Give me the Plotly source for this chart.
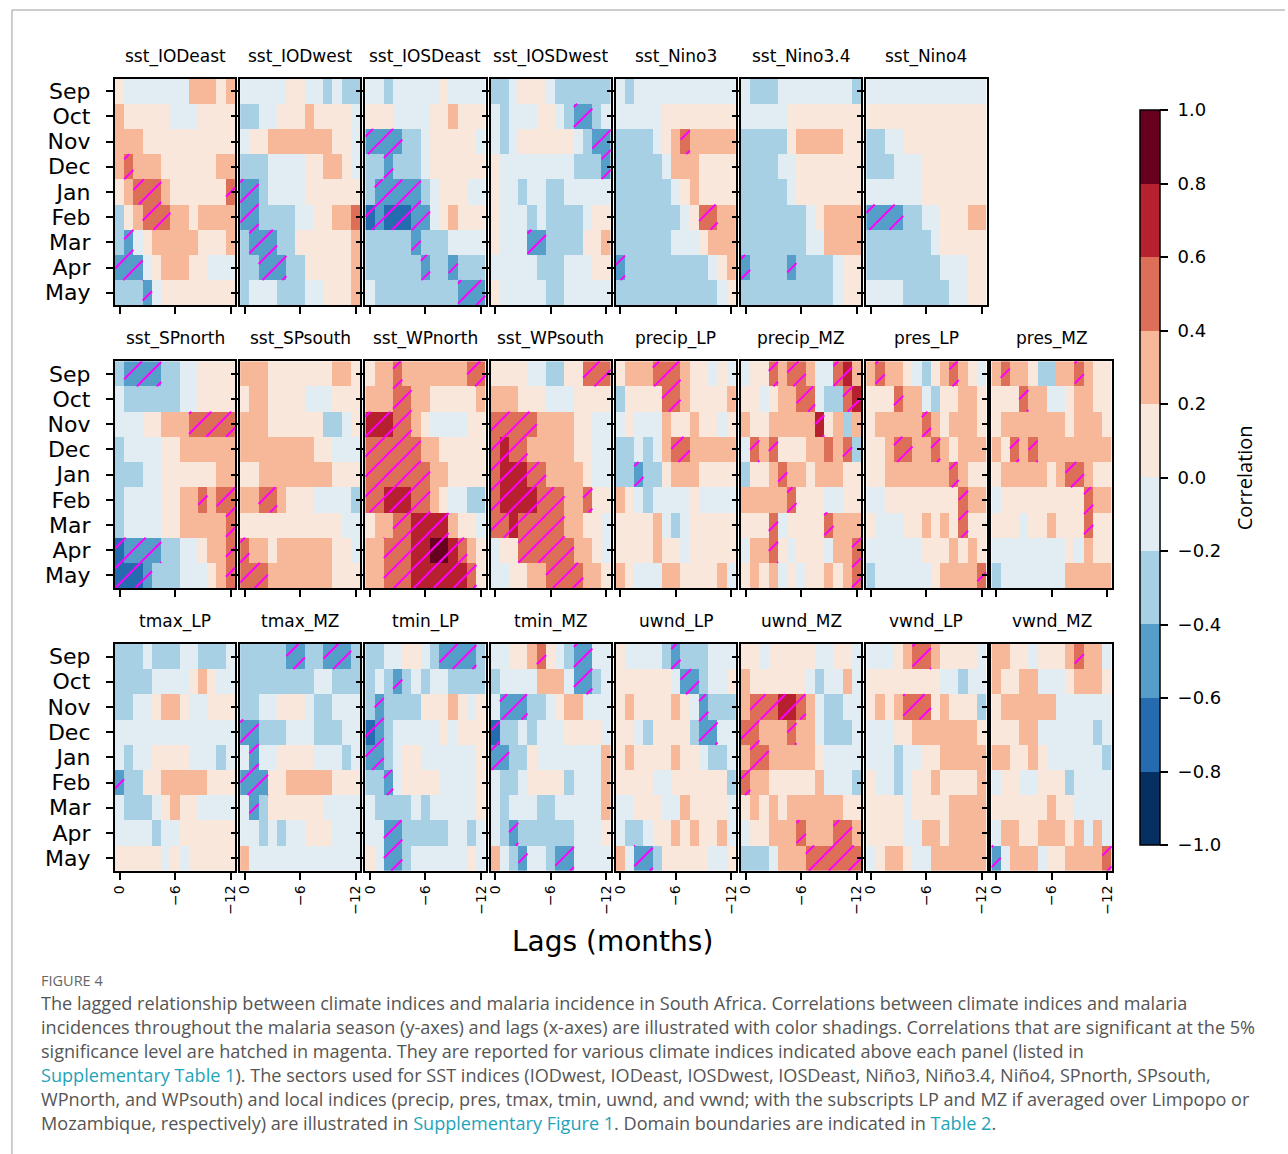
import math
import plotly.graph_objects as go

# ---------------- data ----------------
MONTHS = ["Sep", "Oct", "Nov", "Dec", "Jan", "Feb", "Mar", "Apr", "May"]
LAGS = [0, -1, -2, -3, -4, -5, -6, -7, -8, -9, -10, -11, -12]
LAG_TICKS = [0, -6, -12]
LAG_TICKTEXT = ["0", "\u22126", "\u221212"]

# correlation class centres (colorbar bins of width 0.2 from -1 to 1)
BIN_CENTERS = [-0.9, -0.7, -0.5, -0.3, -0.1, 0.1, 0.3, 0.5, 0.7, 0.9]
# cell codes: digit = correlation bin (0..9), letter A..J = same bin and significant (hatched)

sst_IODeast = ["5444444466656", "6555554445555", "6665555555555", "6H66655555566", "56HHH6555555H",
               "356HHH6656666", "3C45666665556", "CCC4566655444", "333C455555555"]
sst_IODwest = ["4444455443433", "3344555655554", "4556666666554", "3334444556654", "CC34444555555",
               "CC33334455667", "3CCC335555556", "33CCC33555556", "3444333445556"]
sst_IOSDeast = ["4434444454444", "5554444556555", "CCCC334555554", "33C3334555555", "3CCCCC3455544",
                "BCBBBCC456555", "33333C3334444", "333333C33C333", "4333333333CCC"]
sst_IOSDwest = ["3345554333333", "434445543CC34", "43455555543CC", "544444444333C", "5443443344444",
                "5444343333455", "5444CC3333556", "4444433344455", "5444443344444"]
sst_Nino3 = ["4344444444444", "4444455555555", "3333456H66666", "3333346665555", "3333334565555",
             "333333345HH66", "3333334445666", "C333333333456", "3333333333345"]
sst_Nino34 = ["4333444444443", "4444455555555", "3333356666655", "3333445555555", "3333345555555",
              "3333333456666", "3333333446666", "C3333C3333455", "3333333333455"]
sst_Nino4 = ["4444444444444", "5555555555555", "3344555555555", "3334445555555", "4444445555555",
             "CCCC334455566", "3333333455555", "3333333344455", "4444333334455"]

sst_SPnorth = ["3CCCC33445555", "4333333445555", "44455666HHHHH", "3444455666666", "3334455555566",
               "344445566H6HH", "344445566666H", "BCCCC3344566H", "BBBC33344456H"]
sst_SPsouth = ["6665555555665", "5665555444555", "6665555553345", "6666666655444", "5566666666555",
               "66HH655544443", "5555555555544", "H665666666554", "HHH6666666555"]
sst_WPnorth = ["566H6666666HH", "666HH66555556", "IIIHH65444455", "HHHHHH6655555", "HHHHHHH665555",
               "HHIIIHH654433", "566HHIIII6554", "66HHHIIJJIH65", "66HHHIIIIIIH5"]
sst_WPsouth = ["5555443355HHH", "6665554445555", "HHHHH66665544", "HIHH666665544", "HIIIHH6666544",
               "HIIIIHHH66H55", "HHIHHHHH66554", "455HHHHHH6654", "445566HHHH665"]
precip_LP = ["5666HHH655454", "35555HH655556", "4544465565545", "334346HH66666", "33C3356665555",
             "6543444454444", "5555643455555", "5555655455555", "6544466555564"]
precip_MZ = ["455H6HH644HI6", "554566HH433HI", "65566666I5636", "4H6H5556676H3", "3556H66566655",
             "66666H5554455", "555H45555H666", "466H54555466H", "565645455656H"]
pres_LP = ["6H6654356H654", "555H664355665", "566666H656665", "556HH66H65666", "556666666H655",
           "4455555555H66", "5444556565H55", "4444445556565", "344444456666H"]
pres_MZ = ["6H6653366H655", "555H664456655", "5666666656665", "65H6H66666666", "56666656HH655",
           "4555555555H66", "5554556555H55", "4444444454655", "3444444466666"]

tmax_LP = ["3334333443334", "3333444456544", "3344566544555", "4444444444444", "4344555544434",
           "C335566666555", "4333456554444", "4444344555555", "5555545455555"]
tmax_MZ = ["33333CC33CCC3", "3333333344333", "3344555433444", "CC33344433344", "4C44555544434",
           "CCC5566666555", "4C35555554444", "4434344555444", "6444444444444"]
tmin_LP = ["33445543CCCC3", "343C343443333", "3C33335556545", "BC34444454555", "CC34554444445",
           "33C4555544445", "4333343444445", "44CC333334434", "54CC344444454"]
tmin_MZ = ["44556H543CC44", "344446664CC34", "4CCC334566444", "B334344455554", "CC33544444446",
           "4334555534446", "4344433444446", "43C3333334445", "643C443CC4444"]
uwnd_LP = ["544443C333444", "5555554CC3445", "565555654C333", "554355553CC44", "5655556554334",
           "5555445555553", "4455544655554", "4334556565564", "64CC355555445"]
uwnd_MZ = ["5545555544554", "6555555434464", "6HHHIIH643344", "HH666H6643334", "6HH6666654444",
           "H665555564443", "5656566666655", "455666H666HH6", "3334666HHHHHH"]
vwnd_LP = ["44456HH655554", "5555555544344", "5656HHH565553", "4445566666665", "4443445566666",
           "5443455655556", "5555455556666", "5555446656666", "4566544666666"]
vwnd_MZ = ["665545556H664", "6556644456665", "5666666444444", "5556644444434", "6655654444443",
           "4554455534444", "5555556554444", "4665566656464", "C46664556666H"]

PANEL_ROWS = [
    [("sst_IODeast", sst_IODeast), ("sst_IODwest", sst_IODwest), ("sst_IOSDeast", sst_IOSDeast),
     ("sst_IOSDwest", sst_IOSDwest), ("sst_Nino3", sst_Nino3), ("sst_Nino3.4", sst_Nino34),
     ("sst_Nino4", sst_Nino4)],
    [("sst_SPnorth", sst_SPnorth), ("sst_SPsouth", sst_SPsouth), ("sst_WPnorth", sst_WPnorth),
     ("sst_WPsouth", sst_WPsouth), ("precip_LP", precip_LP), ("precip_MZ", precip_MZ),
     ("pres_LP", pres_LP), ("pres_MZ", pres_MZ)],
    [("tmax_LP", tmax_LP), ("tmax_MZ", tmax_MZ), ("tmin_LP", tmin_LP), ("tmin_MZ", tmin_MZ),
     ("uwnd_LP", uwnd_LP), ("uwnd_MZ", uwnd_MZ), ("vwnd_LP", vwnd_LP), ("vwnd_MZ", vwnd_MZ)],
]

CB_TICKS = [1.0, 0.8, 0.6, 0.4, 0.2, 0.0, -0.2, -0.4, -0.6, -0.8, -1.0]
CB_COLORS = ["#053061", "#256baf", "#549ec9", "#a7d0e4", "#e2edf3",
             "#fae7dc", "#f7b799", "#dd6f59", "#b6202f", "#67001f"]
CB_TITLE = "Correlation"
X_TITLE = "Lags (months)"

CAPTION_HEAD = "FIGURE 4"
LINK = "#1fa3b9"
CAPTION_LINES = [
    "The lagged relationship between climate indices and malaria incidence in South Africa. Correlations between climate indices and malaria",
    "incidences throughout the malaria season (y-axes) and lags (x-axes) are illustrated with color shadings. Correlations that are significant at the 5%",
    "significance level are hatched in magenta. They are reported for various climate indices indicated above each panel (listed in",
    f"<span style='color:{LINK}'>Supplementary Table 1</span>). The sectors used for SST indices (IODwest, IODeast, IOSDwest, IOSDeast, Niño3, Niño3.4, Niño4, SPnorth, SPsouth,",
    "WPnorth, and WPsouth) and local indices (precip, pres, tmax, tmin, uwnd, and vwnd; with the subscripts LP and MZ if averaged over Limpopo or",
    f"Mozambique, respectively) are illustrated in <span style='color:{LINK}'>Supplementary Figure 1</span>. Domain boundaries are indicated in <span style='color:{LINK}'>Table 2</span>.",
]

# ---------------- layout geometry (pixels) ----------------
W, H = 1288, 1154
PX0, PITCH_X, PW = 111.5, 125.9, 121.0
PY0, PITCH_Y, PH = 78.5, 282.7, 226.8
HATCH_SPACING = 20.0
FONT = "DejaVu Sans"


def decode(grid):
    vals, sig = [], []
    for row in grid:
        vr, sr = [], []
        for ch in row:
            if ch.isdigit():
                vr.append(BIN_CENTERS[int(ch)]); sr.append(False)
            else:
                vr.append(BIN_CENTERS[ord(ch) - ord("A")]); sr.append(True)
        vals.append(vr); sig.append(sr)
    return vals, sig


colorscale = []
for k, col in enumerate(CB_COLORS):
    colorscale.append([k / 10, col])
    colorscale.append([(k + 1) / 10, col])

fig = go.Figure()
annotations = []
n = 0
for r, row in enumerate(PANEL_ROWS):
    for c, (name, grid) in enumerate(row):
        n += 1
        x0 = PX0 + PITCH_X * c
        y0 = PY0 + PITCH_Y * r
        xa = "x" if n == 1 else f"x{n}"
        ya = "y" if n == 1 else f"y{n}"
        vals, sig = decode(grid)
        fig.add_trace(go.Heatmap(z=vals, x=LAGS, y=list(range(len(MONTHS))), coloraxis="coloraxis",
                                 xaxis=xa, yaxis=ya, hoverinfo="skip"))
        # hatch segments for significant cells (45 deg lines in screen space)
        cw, rh = PW / len(LAGS), PH / len(MONTHS)
        hx, hy = [], []
        for i, srow in enumerate(sig):
            for j, s in enumerate(srow):
                if not s:
                    continue
                L, R = x0 + j * cw, x0 + (j + 1) * cw
                T, B = y0 + i * rh, y0 + (i + 1) * rh
                kmin = math.ceil((L + T) / HATCH_SPACING)
                kmax = math.floor((R + B) / HATCH_SPACING)
                for k in range(kmin, kmax + 1):
                    C = k * HATCH_SPACING
                    xa_ = max(L, C - B)
                    xb_ = min(R, C - T)
                    if xb_ - xa_ < 0.3:
                        continue
                    for px in (xa_, xb_):
                        py = C - px
                        hx.append(0.5 - (px - x0) / cw)
                        hy.append(-0.5 + (py - y0) / rh)
                    hx.append(None); hy.append(None)
        if hx:
            fig.add_trace(go.Scatter(x=hx, y=hy, mode="lines", xaxis=xa, yaxis=ya,
                                     line=dict(color="#ff00ff", width=2), hoverinfo="skip",
                                     showlegend=False))
        xkey = "xaxis" if n == 1 else f"xaxis{n}"
        ykey = "yaxis" if n == 1 else f"yaxis{n}"
        fig.layout[xkey] = dict(domain=[x0 / W, (x0 + PW) / W], range=[0.5, -12.5], anchor=ya,
                                tickvals=LAG_TICKS, ticktext=LAG_TICKTEXT, showticklabels=(r == 2),
                                tickangle=-90, tickfont=dict(size=14, color="black", family=FONT),
                                ticks="outside", ticklen=7, tickwidth=1.5, tickcolor="black",
                                showline=True, mirror=True, linecolor="black", linewidth=2,
                                showgrid=False, zeroline=False, fixedrange=True)
        fig.layout[ykey] = dict(domain=[1 - (y0 + PH) / H, 1 - y0 / H], range=[8.5, -0.5], anchor=xa,
                                tickvals=list(range(len(MONTHS))), ticktext=MONTHS,
                                showticklabels=(c == 0), ticklabelstandoff=11,
                                tickfont=dict(size=22, color="black", family=FONT),
                                ticks="outside", ticklen=7, tickwidth=1.5, tickcolor="black",
                                showline=True, mirror=True, linecolor="black", linewidth=2,
                                showgrid=False, zeroline=False, fixedrange=True)
        annotations.append(dict(text=name, x=(x0 + PW / 2) / W, y=1 - (y0 - 22.5) / H,
                                xref="paper", yref="paper", xanchor="center", yanchor="middle",
                                showarrow=False, font=dict(size=17, color="black", family=FONT)))

annotations.append(dict(text=X_TITLE, x=612 / W, y=1 - 941 / H, xref="paper", yref="paper",
                        xanchor="center", yanchor="middle", showarrow=False,
                        font=dict(size=28, color="black", family=FONT)))
annotations.append(dict(text=CB_TITLE, x=1247 / W, y=1 - 478 / H, xref="paper", yref="paper",
                        xanchor="center", yanchor="middle", showarrow=False, textangle=-90,
                        font=dict(size=20, color="black", family="Open Sans")))
annotations.append(dict(text=CAPTION_HEAD, x=35 / W, y=1 - 980 / H, xref="paper", yref="paper",
                        xanchor="left", yanchor="middle", showarrow=False,
                        font=dict(size=14.5, color="#666666", family="Open Sans")))
for i, line in enumerate(CAPTION_LINES):
    annotations.append(dict(text=line, x=35 / W, y=1 - (1003 + 24 * i) / H, xref="paper", yref="paper",
                            xanchor="left", yanchor="middle", showarrow=False, align="left",
                            font=dict(size=18.1, color="#555555", family="Open Sans")))

fig.update_layout(
    width=W, height=H, margin=dict(l=0, r=0, t=0, b=0),
    paper_bgcolor="white", plot_bgcolor="white",
    font=dict(family=FONT, color="black"),
    showlegend=False,
    annotations=annotations,
    coloraxis=dict(
        cmin=-1, cmax=1, colorscale=colorscale,
        colorbar=dict(x=1142 / W, xanchor="left", y=1 - 477.5 / H, yanchor="middle",
                      len=735 / H, lenmode="fraction", thickness=20, xpad=0, ypad=0,
                      outlinewidth=1.5, outlinecolor="black",
                      ticks="outside", ticklen=8, tickwidth=1.5, tickcolor="black",
                      tickvals=CB_TICKS,
                      ticktext=["\u00a0" + ("\u2212" if v < 0 else "") + f"{abs(v):.1f}" for v in CB_TICKS],
                      tickfont=dict(size=18, color="black", family=FONT)),
    ),
    shapes=[
        dict(type="line", xref="paper", yref="paper", x0=8 / W, x1=1, y0=1 - 10 / H, y1=1 - 10 / H,
             line=dict(color="#9a9a9a", width=1)),
        dict(type="line", xref="paper", yref="paper", x0=8 / W, x1=8 / W, y0=1 - 10 / H, y1=0,
             line=dict(color="#9a9a9a", width=1)),
    ],
)

fig.write_html("out.html", config={"displayModeBar": False},
               post_script="document.body.style.margin='0';document.body.style.overflow='hidden';")
